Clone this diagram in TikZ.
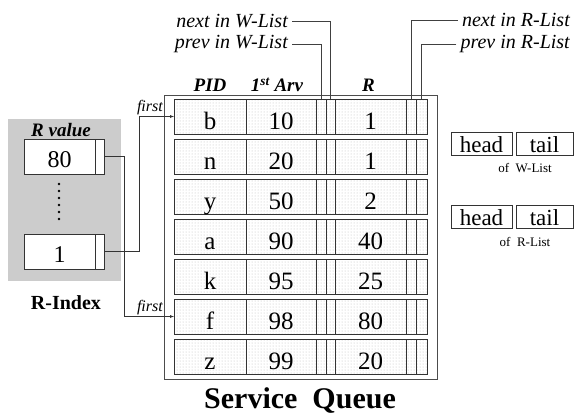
\documentclass[tikz,border=0pt]{standalone}
\usepackage{fontspec}
\setmainfont{Liberation Serif}
\usetikzlibrary{patterns,positioning}

\begin{document}
\begin{tikzpicture}[x=1pt,y=-1pt,
    cell/.style={draw=black!80,semithick,pattern=dots,pattern color=gray!55,anchor=west,
      minimum height=35pt,inner sep=0pt,outer sep=0pt,text height=25pt,text depth=0pt,
      font=\fontsize{25}{25}\selectfont},
    hdr/.style={font=\fontsize{19}{19}\selectfont\bfseries\itshape,inner sep=0pt,text depth=0pt},
    lbl/.style={font=\fontsize{20}{20}\selectfont\itshape,inner sep=4pt},
    link/.style={draw=black!75,thin},
    conn/.style={draw=black!80,thin,-latex},
    valbox/.style={draw=black!80,fill=white,anchor=west,minimum height=35pt,inner sep=0pt,
      outer sep=0pt,text height=21pt,text depth=0pt,font=\fontsize{24}{24}\selectfont},
    ptrbox/.style={draw=black!80,semithick,anchor=west,minimum height=23pt,inner sep=0pt,
      outer sep=0pt,text height=17pt,text depth=0pt,font=\fontsize{23}{23}\selectfont},
    small/.style={font=\fontsize{13}{13}\selectfont},
    firstlbl/.style={font=\fontsize{16}{16}\selectfont\itshape,anchor=south east,inner sep=1pt}]

  \useasboundingbox (0,0) rectangle (575,418);

  % R-Index
  \fill[gray!40] (8,119) rectangle (121,281);
  \node[hdr] (rval) at (61,130) {R value};
  \node[valbox,minimum width=71pt] (v80) at (24,156.5) {80};
  \node[valbox,minimum width=9pt] (v80p) at (v80.east) {};
  \node[valbox,minimum width=71pt] (v1) at (24,251.5) {1};
  \node[valbox,minimum width=9pt] (v1p) at (v1.east) {};
  \foreach \k in {0,...,5}
    \fill (59,184+7*\k) circle (1.4pt);
  \node[font=\fontsize{20}{20}\selectfont\bfseries] (rindex) at (66,303) {R-Index};

  % service queue
  \node[draw=black!70,minimum width=273pt,minimum height=284pt,inner sep=0pt] (queue) at (300.5,237) {};
  \foreach \p/\t/\r [count=\i] in {b/10/1,n/20/1,y/50/2,a/90/40,k/95/25,f/98/80,z/99/20} {
    \node[cell,minimum width=72pt] (pid\i) at (174,76.5+40*\i) {\p};
    \node[cell,minimum width=70pt] (arv\i) at (pid\i.east) {\t};
    \node[cell,minimum width=10pt] (pw\i) at (arv\i.east) {};
    \node[cell,minimum width=9pt] (nw\i) at (pw\i.east) {};
    \node[cell,minimum width=71pt] (r\i) at (nw\i.east) {\r};
    \node[cell,minimum width=10pt] (nr\i) at (r\i.east) {};
    \node[cell,minimum width=11pt] (pr\i) at (nr\i.east) {};
  }
  \node[hdr,above=7pt of pid1] (hpid) {PID};
  \node[hdr,above=7pt of arv1,xshift=-4pt] (harv) {1\textsuperscript{st} Arv};
  \node[hdr,above=7pt of r1,xshift=-2pt] (hr) {R};
  \node[anchor=base,font=\fontsize{30}{30}\selectfont\bfseries] (title) at (300,408) {Service\ \ Queue};

  % pointer labels
  \node[lbl,anchor=east] (nextW) at (292,21) {next in W-List};
  \node[lbl,anchor=east] (prevW) at (292,44) {prev in W-List};
  \node[lbl,anchor=east] (nextR) at (574,20) {next in R-List};
  \node[lbl,anchor=east] (prevR) at (574,44) {prev in R-List};
  \draw[link] (nextW.east) -| (nw1.north);
  \draw[link] (prevW.east) -| (pw1.north);
  \draw[link] (nextR.west) -| (nr1.north);
  \draw[link] (prevR.west) -| (pr1.north);

  % first pointers
  \coordinate (jA) at (124,0);
  \coordinate (jB) at (139,0);
  \draw[conn] (v80p.east) -- (v80p.east -| jA) |- (pid6.west);
  \draw[conn] (v1p.east) -- (v1p.east -| jB) |- (pid1.west);
  \node[firstlbl] (first1) at ([xshift=-10pt]pid1.west) {first};
  \node[firstlbl] (first6) at ([xshift=-10pt]pid6.west) {first};

  % head and tail
  \node[ptrbox,minimum width=61pt] (headW) at (451,143.5) {head};
  \node[ptrbox,minimum width=57pt] (tailW) at (516,143.5) {tail};
  \node[small] (ofW) at (525,168) {of\ \ W-List};
  \node[ptrbox,minimum width=61pt] (headR) at (451,216.5) {head};
  \node[ptrbox,minimum width=57pt] (tailR) at (516,216.5) {tail};
  \node[small] (ofR) at (525,242) {of\ \ R-List};

\end{tikzpicture}
\end{document}
